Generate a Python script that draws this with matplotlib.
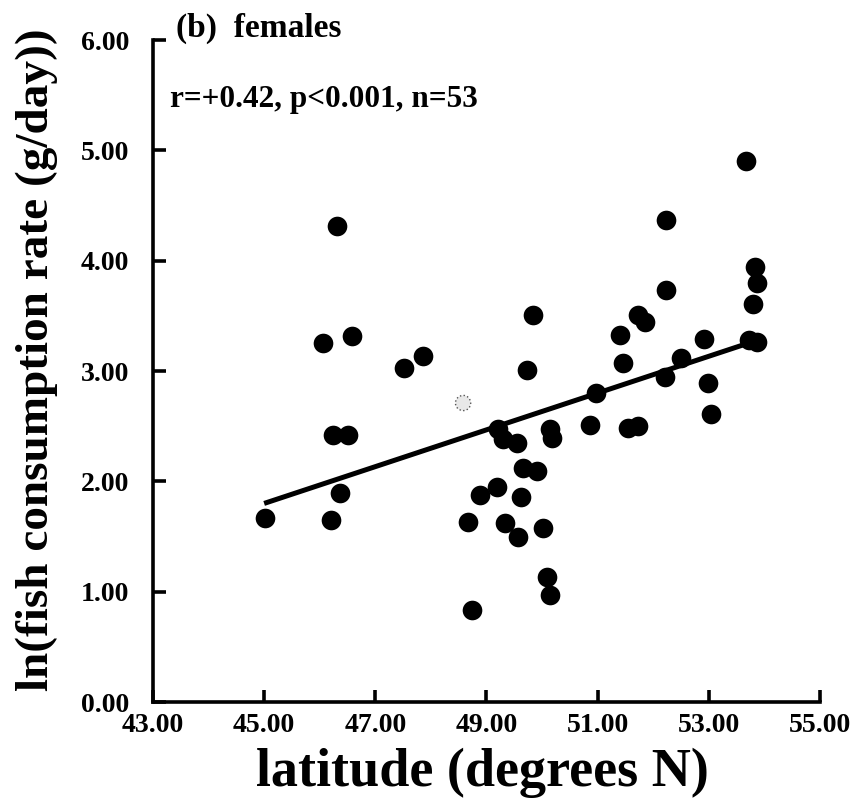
import matplotlib
matplotlib.use("Agg")
import matplotlib.pyplot as plt
import numpy as np

# Female fish consumption vs. latitude
latitude = [45.01, 46.06, 46.31, 46.24, 46.51, 46.58, 46.36, 46.20, 47.51, 47.86,
            48.67, 48.74, 48.88, 49.19, 49.33, 49.56, 50.01, 50.09, 50.14, 49.62,
            49.65, 49.91, 49.20, 49.29, 49.55, 50.14, 50.18, 50.86, 50.97, 49.73,
            49.83, 51.40, 51.45, 51.55, 51.72, 51.72, 51.85, 52.24, 52.24, 52.51,
            52.22, 52.91, 52.99, 53.04, 53.67, 53.83, 53.86, 53.79, 53.72, 53.86]
ln_consumption = [1.67, 3.25, 4.31, 2.42, 2.42, 3.32, 1.89, 1.65, 3.03, 3.14,
                  1.63, 0.83, 1.88, 1.95, 1.62, 1.50, 1.58, 1.13, 0.97, 1.86,
                  2.12, 2.09, 2.47, 2.38, 2.35, 2.47, 2.39, 2.51, 2.80, 3.01,
                  3.51, 3.33, 3.07, 2.48, 2.50, 3.51, 3.44, 4.37, 3.73, 3.12,
                  2.95, 3.29, 2.89, 2.61, 4.90, 3.94, 3.80, 3.61, 3.28, 3.26]

# faintly printed observation
faint_lat = [48.58]
faint_val = [2.71]

# regression line end points
fit_lat = [45.0, 53.7]
fit_val = [1.80, 3.25]

x_ticks = [43, 45, 47, 49, 51, 53, 55]
y_ticks = [0, 1, 2, 3, 4, 5, 6]

serif = ["Liberation Serif", "DejaVu Serif"]

fig = plt.figure(figsize=(8.63, 8.10), dpi=100)
ax = fig.add_axes([0.1773, 0.1333, 0.7727, 0.8173])

ax.scatter(latitude, ln_consumption, s=200, color="black", zorder=3, linewidths=0)
ax.scatter(faint_lat, faint_val, s=120, facecolor="#e8e8e8", edgecolor="#555555",
           linewidths=1.0, linestyle=":", zorder=3)
ax.plot(fit_lat, fit_val, color="black", lw=3.6, solid_capstyle="butt", zorder=2)

ax.set_xlim(43, 55)
ax.set_ylim(0, 6)
ax.set_xticks(x_ticks)
ax.set_yticks(y_ticks)
ax.set_xticklabels([f"{v:.2f}" for v in x_ticks])
ax.set_yticklabels([f"{v:.2f}" for v in y_ticks])

for side in ("top", "right"):
    ax.spines[side].set_visible(False)
for side in ("left", "bottom"):
    ax.spines[side].set_linewidth(2.6)
    ax.spines[side].set_capstyle("projecting")

ax.tick_params(direction="in", length=9, width=2.6)
ax.tick_params(axis="x", pad=8)
ax.tick_params(axis="y", pad=17)
for lab in ax.get_xticklabels() + ax.get_yticklabels():
    lab.set_family(serif)
    lab.set_fontweight("bold")
    lab.set_fontsize(20)

fig.text(0.5585, 0.046, "latitude (degrees N)", family=serif, fontweight="bold",
         fontsize=39, ha="center", va="center")
fig.text(0.043, 0.556, "ln(fish consumption rate (g/day))", family=serif,
         fontweight="bold", fontsize=34, ha="center", va="center", rotation=90)

fig.text(0.204, 0.965, "(b)  females", family=serif, fontweight="bold",
         fontsize=24, va="center", ha="left")
fig.text(0.197, 0.877, "r=+0.42, p<0.001, n=53", family=serif, fontweight="bold",
         fontsize=22.5, va="center", ha="left")

fig.savefig("out.png", dpi=100)
